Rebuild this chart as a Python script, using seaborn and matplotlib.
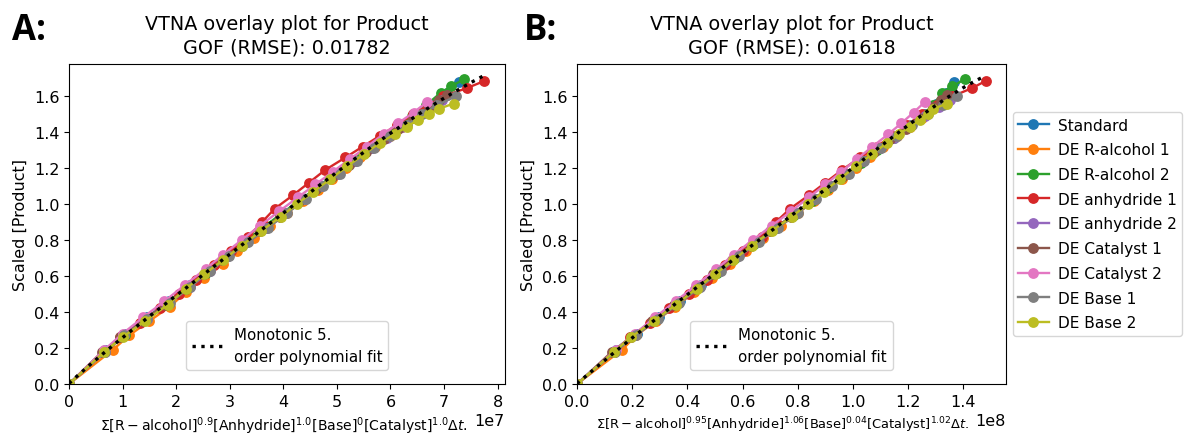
import numpy as np
import pandas as pd
import matplotlib
matplotlib.use("Agg")
import matplotlib.pyplot as plt
import seaborn as sns
from matplotlib.lines import Line2D
from matplotlib.ticker import MultipleLocator

plt.rcParams.update({
    "font.family": ["DejaVu Sans"],
    "font.size": 11.5,
    "axes.edgecolor": "black",
    "text.color": "black",
    "axes.labelcolor": "black",
    "xtick.color": "black",
    "ytick.color": "black",
})

series_names = ["Standard", "DE R-alcohol 1", "DE R-alcohol 2", "DE anhydride 1",
                "DE anhydride 2", "DE Catalyst 1", "DE Catalyst 2", "DE Base 1", "DE Base 2"]

# Scaled product concentration for each experiment
y_standard = [0, 0.19, 0.28, 0.37, 0.46, 0.55, 0.63, 0.71, 0.79, 0.87, 0.95, 1.03, 1.10, 1.17,
              1.24, 1.31, 1.38, 1.44, 1.50, 1.56, 1.62, 1.68]
y_ralc1 = [0, 0.19, 0.27, 0.35, 0.43, 0.51, 0.59, 0.67, 0.74, 0.81, 0.88, 0.95, 1.02, 1.08,
           1.14, 1.20, 1.26, 1.32, 1.38, 1.43, 1.48]
y_ralc2 = [0, 0.18, 0.27, 0.36, 0.45, 0.54, 0.62, 0.70, 0.78, 0.86, 0.94, 1.02, 1.09, 1.16,
           1.23, 1.30, 1.37, 1.43, 1.49, 1.55, 1.62, 1.655, 1.695]
y_anh1 = [0, 0.18, 0.26, 0.34, 0.42, 0.50, 0.58, 0.66, 0.74, 0.82, 0.90, 0.975, 1.05, 1.12,
          1.19, 1.26, 1.32, 1.38, 1.44, 1.50, 1.55, 1.60, 1.645, 1.685]
y_anh2 = [0, 0.18, 0.27, 0.36, 0.45, 0.54, 0.63, 0.71, 0.79, 0.87, 0.95, 1.03, 1.10, 1.17,
          1.24, 1.31, 1.37, 1.43, 1.49, 1.54, 1.58]
y_cat1 = [0, 0.18, 0.26, 0.35, 0.44, 0.53, 0.61, 0.69, 0.77, 0.85, 0.93, 1.01, 1.08, 1.15,
          1.22, 1.29, 1.36, 1.42, 1.48, 1.54, 1.58, 1.61]
y_cat2 = [0, 0.19, 0.28, 0.37, 0.46, 0.55, 0.64, 0.72, 0.80, 0.88, 0.96, 1.04, 1.11, 1.18,
          1.25, 1.32, 1.39, 1.45, 1.51, 1.57]
y_base1 = [0, 0.18, 0.27, 0.36, 0.45, 0.54, 0.63, 0.71, 0.79, 0.87, 0.95, 1.03, 1.10, 1.17,
           1.24, 1.31, 1.38, 1.44, 1.50, 1.55, 1.60]
y_base2 = [0, 0.18, 0.26, 0.35, 0.44, 0.53, 0.61, 0.69, 0.77, 0.85, 0.93, 1.00, 1.07, 1.14,
           1.21, 1.28, 1.34, 1.39, 1.43, 1.47, 1.50, 1.53, 1.56]

# Normalised time axis, panel A (units of 1e7)
xa_standard = [0, 0.68, 1.05, 1.45, 1.86, 2.26, 2.62, 2.94, 3.30, 3.68, 4.01, 4.36, 4.70, 5.00,
               5.34, 5.64, 5.96, 6.24, 6.52, 6.80, 7.05, 7.27]
xa_ralc1 = [0, 0.82, 1.12, 1.50, 1.88, 2.18, 2.52, 2.88, 3.13, 3.45, 3.76, 4.06, 4.37, 4.64,
            4.90, 5.17, 5.43, 5.71, 5.99, 6.22, 6.46]
xa_ralc2 = [0, 0.66, 1.05, 1.43, 1.82, 2.20, 2.55, 2.90, 3.22, 3.58, 3.93, 4.30, 4.62, 4.92,
            5.24, 5.54, 5.87, 6.12, 6.40, 6.66, 6.94, 7.13, 7.37]
xa_anh1 = [0, 0.66, 0.96, 1.33, 1.70, 2.05, 2.37, 2.70, 3.03, 3.35, 3.60, 3.84, 4.18, 4.48,
           4.78, 5.16, 5.48, 5.80, 6.12, 6.42, 6.70, 6.98, 7.42, 7.75]
xa_anh2 = [0, 0.67, 1.02, 1.45, 1.86, 2.25, 2.63, 2.97, 3.32, 3.68, 4.03, 4.40, 4.71, 5.02,
           5.34, 5.66, 5.93, 6.22, 6.52, 6.76, 6.96]
xa_cat1 = [0, 0.62, 0.96, 1.38, 1.80, 2.19, 2.52, 2.86, 3.22, 3.57, 3.93, 4.28, 4.60, 4.91,
           5.23, 5.55, 5.87, 6.14, 6.42, 6.72, 6.90, 7.06]
xa_cat2 = [0, 0.66, 1.00, 1.38, 1.78, 2.16, 2.55, 2.88, 3.22, 3.56, 3.92, 4.28, 4.60, 4.92,
           5.24, 5.56, 5.87, 6.14, 6.43, 6.69]
xa_base1 = [0, 0.68, 1.03, 1.46, 1.88, 2.26, 2.64, 2.99, 3.35, 3.72, 4.07, 4.43, 4.74, 5.05,
            5.37, 5.69, 6.00, 6.30, 6.58, 6.86, 7.22]
xa_base2 = [0, 0.66, 1.00, 1.42, 1.84, 2.18, 2.52, 2.88, 3.22, 3.58, 3.95, 4.25, 4.56, 4.88,
            5.19, 5.51, 5.80, 6.08, 6.30, 6.52, 6.72, 6.90, 7.18]

# Normalised time axis, panel B (units of 1e8)
xb_standard = [0, 0.143, 0.217, 0.296, 0.374, 0.449, 0.515, 0.581, 0.651, 0.720, 0.795, 0.861,
               0.919, 0.977, 1.036, 1.097, 1.157, 1.210, 1.260, 1.300, 1.335, 1.365]
xb_ralc1 = [0, 0.163, 0.215, 0.285, 0.356, 0.425, 0.490, 0.555, 0.612, 0.675, 0.738, 0.800,
            0.860, 0.910, 0.960, 1.010, 1.060, 1.110, 1.160, 1.205, 1.250]
xb_ralc2 = [0, 0.135, 0.209, 0.287, 0.365, 0.441, 0.507, 0.573, 0.642, 0.713, 0.785, 0.853,
            0.911, 0.968, 1.028, 1.088, 1.148, 1.195, 1.245, 1.290, 1.322, 1.358, 1.405]
xb_anh1 = [0, 0.135, 0.193, 0.265, 0.335, 0.405, 0.472, 0.537, 0.600, 0.670, 0.720, 0.772,
           0.840, 0.900, 0.960, 1.025, 1.085, 1.140, 1.195, 1.250, 1.305, 1.360, 1.430, 1.480]
xb_anh2 = [0, 0.135, 0.210, 0.290, 0.367, 0.445, 0.517, 0.583, 0.652, 0.722, 0.797, 0.862,
           0.920, 0.978, 1.037, 1.098, 1.150, 1.202, 1.262, 1.310, 1.350]
xb_cat1 = [0, 0.127, 0.195, 0.270, 0.350, 0.426, 0.494, 0.560, 0.632, 0.700, 0.775, 0.842,
           0.900, 0.960, 1.015, 1.075, 1.135, 1.190, 1.240, 1.290, 1.320, 1.340]
xb_cat2 = [0, 0.140, 0.210, 0.282, 0.357, 0.432, 0.505, 0.568, 0.636, 0.705, 0.775, 0.842,
           0.900, 0.957, 1.013, 1.070, 1.128, 1.175, 1.219, 1.261]
xb_base1 = [0, 0.138, 0.212, 0.292, 0.370, 0.447, 0.522, 0.588, 0.658, 0.728, 0.800, 0.865,
            0.925, 0.985, 1.040, 1.100, 1.160, 1.215, 1.270, 1.325, 1.376]
xb_base2 = [0, 0.135, 0.195, 0.278, 0.357, 0.433, 0.500, 0.566, 0.633, 0.705, 0.777, 0.836,
            0.894, 0.952, 1.010, 1.070, 1.122, 1.167, 1.205, 1.243, 1.270, 1.291, 1.340]

y_all = [y_standard, y_ralc1, y_ralc2, y_anh1, y_anh2, y_cat1, y_cat2, y_base1, y_base2]
xa_all = [xa_standard, xa_ralc1, xa_ralc2, xa_anh1, xa_anh2, xa_cat1, xa_cat2, xa_base1, xa_base2]
xb_all = [xb_standard, xb_ralc1, xb_ralc2, xb_anh1, xb_anh2, xb_cat1, xb_cat2, xb_base1, xb_base2]

titles = ["VTNA overlay plot for Product\nGOF (RMSE): 0.01782",
          "VTNA overlay plot for Product\nGOF (RMSE): 0.01618"]
xlabels = [r"$\Sigma[\mathrm{R-alcohol}]^{0.9}[\mathrm{Anhydride}]^{1.0}[\mathrm{Base}]^{0}"
           r"[\mathrm{Catalyst}]^{1.0}\Delta t$.",
           r"$\Sigma[\mathrm{R-alcohol}]^{0.95}[\mathrm{Anhydride}]^{1.06}[\mathrm{Base}]^{0.04}"
           r"[\mathrm{Catalyst}]^{1.02}\Delta t$."]
xlabel_sizes = [10.1, 9.4]
xlabel_centres = [0.494, 0.48]
scales = [1e7, 1e8]
fit_label = "Monotonic 5.\norder polynomial fit"
panel_labels = ["A:", "B:"]

palette = sns.color_palette("tab10", len(series_names))

fig = plt.figure(figsize=(11.89, 4.39), dpi=100)
W, H = 1189, 439
ax_a = fig.add_axes([69 / W, 1 - 385 / H, (505 - 69) / W, 320 / H])
ax_b = fig.add_axes([577 / W, 1 - 385 / H, (1006 - 577) / W, 320 / H])

for ax, xs_all, scale, title, xlabel, xls, xlc in zip(
        [ax_a, ax_b], [xa_all, xb_all], scales, titles, xlabels, xlabel_sizes, xlabel_centres):
    frames = []
    for name, xs, ys in zip(series_names, xs_all, y_all):
        frames.append(pd.DataFrame({"x": np.asarray(xs) * scale, "y": ys, "series": name}))
    df = pd.concat(frames, ignore_index=True)
    sns.lineplot(data=df, x="x", y="y", hue="series", hue_order=series_names, palette=palette,
                 marker="o", markersize=7.8, markeredgewidth=0, linewidth=1.7,
                 sort=False, estimator=None, legend=False, ax=ax)
    # 5th-order polynomial through all experiments
    coef = np.polyfit(df["x"] / scale, df["y"], 5)
    xf = np.linspace(0, df["x"].max() / scale, 300)
    ax.plot(xf * scale, np.polyval(coef, xf), color="black", linestyle=":", linewidth=2.4, zorder=5)
    ax.set_xlim(0, df["x"].max() * 1.05)
    ax.set_ylim(0, df["y"].max() * 1.05)
    ax.yaxis.set_major_locator(MultipleLocator(0.2))
    ax.set_title(title, fontsize=13.8, pad=8, linespacing=1.35)
    ax.set_xlabel(xlabel, fontsize=xls)
    ax.xaxis.label.set_x(xlc)
    ax.set_ylabel("Scaled [Product]")
    fit_handle = Line2D([], [], color="black", linestyle=":", linewidth=2.4)
    leg = ax.legend(handles=[fit_handle], labels=[fit_label], loc="lower center", fontsize=10.8,
                    borderaxespad=0.95)
    for t in leg.get_texts():
        t.set_linespacing(1.6)

handles = [Line2D([], [], color=c, marker="o", markersize=7.8, markeredgewidth=0, linewidth=1.7)
           for c in palette]
fig.legend(handles, series_names, loc="center left", bbox_to_anchor=(1008 / W, 1 - 225 / H),
           fontsize=11.1, handletextpad=0.6, borderpad=0.35, labelspacing=0.63, borderaxespad=0.3)

for lbl, xpos in zip(panel_labels, [12, 524]):
    fig.text(xpos / W, 1 - 40 / H, lbl, fontsize=25, fontweight="bold",
             family=["Open Sans", "DejaVu Sans"], va="baseline")

fig.savefig("out.png", dpi=100)
